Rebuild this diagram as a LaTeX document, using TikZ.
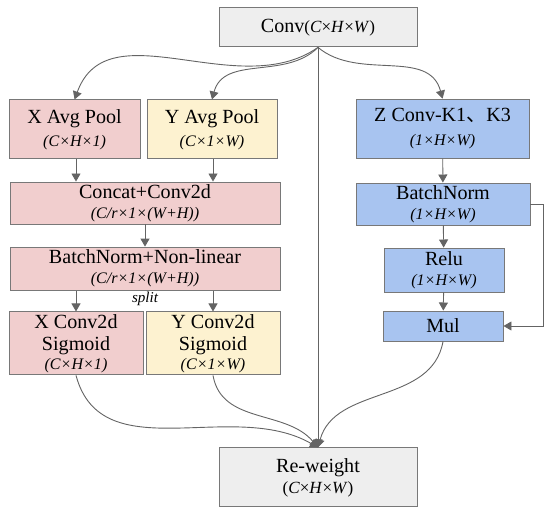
\documentclass[tikz,border=0pt]{standalone}
\usepackage{fontspec}
\setmainfont{Liberation Serif}
\newfontfamily\cjk{Noto Sans CJK SC}
\usetikzlibrary{arrows.meta, positioning, calc}
\usepackage{xcolor}

\definecolor{boxpink}{RGB}{241,206,206}
\definecolor{boxyellow}{RGB}{253,242,208}
\definecolor{boxblue}{RGB}{168,196,240}
\definecolor{boxgray}{RGB}{238,238,238}
\definecolor{edgegray}{RGB}{120,120,120}
\definecolor{linegray}{RGB}{100,100,100}

\newcommand{\dims}[1]{{\fontsize{16}{18}\selectfont\itshape #1}}

\begin{document}
\begin{tikzpicture}[
  font=\fontsize{20}{23}\selectfont,
  block/.style={draw=edgegray, line width=0.9pt, align=center,
                inner sep=0pt, minimum height=#1},
  block/.default=1.5cm,
  flow/.style={-{Triangle[length=8pt,width=9pt]}, draw=linegray,
               fill=none, line width=0.9pt}
]
\useasboundingbox (0,0) rectangle (19.25,-17.99);

\node[block=1.365cm, fill=boxgray, minimum width=6.93cm]   (conv)   at (11.13,-0.96)
  {Conv{\fontsize{17}{19}\selectfont(\textit{C}×\textit{H}×\textit{W})}};

% coordinate attention branch
\node[block=2.065cm, fill=boxpink, minimum width=4.585cm]   (xpool)  at (2.61,-4.53)
  {X Avg Pool\\ \dims{(C×H×1)}};
\node[block=2.065cm, fill=boxyellow, minimum width=4.55cm]  (ypool)  at (7.42,-4.53)
  {Y Avg Pool\\ \dims{(C×1×W)}};
\node[block=1.47cm, fill=boxpink, minimum width=9.45cm]     (concat) at (5.075,-7.105)
  {Concat+Conv2d\\[-3pt] \dims{(C/r×1×(W+H))}};
\node[block=1.505cm, fill=boxpink, minimum width=9.45cm]    (bnnl)   at (5.075,-9.40)
  {BatchNorm+Non-linear\\[-3pt] \dims{(C/r×1×(W+H))}};
\node[font=\fontsize{15}{17}\selectfont\itshape]          (split)  at (5.075,-10.465) {split};
\node[block=2.205cm, fill=boxpink, minimum width=4.69cm]    (xsig)   at (2.66,-12.02)
  {X Conv2d\\[-1pt] Sigmoid\\[-4pt] \dims{(C×H×1)}};
\node[block=2.205cm, fill=boxyellow, minimum width=4.69cm]  (ysig)   at (7.455,-12.02)
  {Y Conv2d\\[-1pt] Sigmoid\\[-4pt] \dims{(C×1×W)}};

% spatial branch
\node[block=2.065cm, fill=boxblue, minimum width=6.055cm]   (zconv)  at (15.49,-4.50)
  {Z Conv-K1{\cjk 、}K3\\ \dims{(1×H×W)}};
\node[block=1.47cm, fill=boxblue, minimum width=6.09cm]     (bn)     at (15.505,-7.14)
  {BatchNorm\\[-3pt] \dims{(1×H×W)}};
\node[block=1.54cm, fill=boxblue, minimum width=4.2cm]      (relu)   at (15.54,-9.45)
  {Relu\\[-3pt] \dims{(1×H×W)}};
\node[block=1.05cm, fill=boxblue, minimum width=4.2cm]      (mul)    at (15.505,-11.41)
  {Mul};

\node[block=2.065cm, fill=boxgray, minimum width=6.93cm]    (rew)    at (11.13,-16.71)
  {Re-weight\\[-2pt] {\fontsize{17}{19}\selectfont(\textit{C}×\textit{H}×\textit{W})}};

%% from the input
\draw[flow] (conv.south) to[out=-145, in=70] (xpool.north);
\draw[flow] (conv.south) to[out=-135, in=75] (ypool.north);
\draw[flow] (conv.south) to[out=-40, in=105] (zconv.north);
\draw[flow] (conv.south) -- (rew.north);

%% left column
\draw[flow] (xpool.south -| xsig) -- (concat.north -| xsig);
\draw[flow] (ypool.south -| ysig) -- (concat.north -| ysig);
\draw[flow] (concat) -- (bnnl);
\draw[flow] (bnnl.south -| xsig) -- (xsig);
\draw[flow] (bnnl.south -| ysig) -- (ysig);

%% right column
\draw[flow] (zconv) -- (bn);
\draw[flow] (bn) -- (relu);
\draw[flow] (relu) -- (mul);
\draw[flow] (bn.east) -- ++(0.45,0) |- (mul.east);

%% into re-weight
\draw[flow] (xsig.south) to[out=-75, in=150] (rew.north);
\draw[flow] (ysig.south) to[out=-80, in=130] (rew.north);
\draw[flow] (mul.south) to[out=-100, in=75] (rew.north);

\end{tikzpicture}
\end{document}
